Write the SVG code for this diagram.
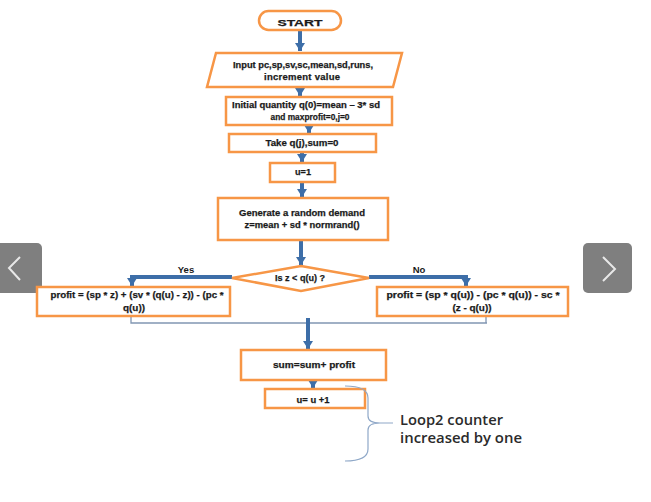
<svg xmlns="http://www.w3.org/2000/svg" width="651" height="502" viewBox="0 0 651 502">
<defs>
<style>
.box{fill:#fff;stroke:#f79646;stroke-width:2.5}
.t{font-family:"Liberation Sans",Arial,sans-serif;font-weight:bold;font-size:9.5px;fill:#1a1a1a;stroke:#1a1a1a;stroke-width:0.25;text-anchor:middle}
.lbl{font-family:"Liberation Sans",Arial,sans-serif;font-weight:bold;font-size:9.5px;fill:#1a1a1a;text-anchor:middle}
.flow{fill:none;stroke:#3d6ea8;stroke-width:4}
.thin{fill:none;stroke:#8196b2;stroke-width:1.3}
.btn{fill:#7f7f7f}
.chev{fill:none;stroke:#e8e8e8;stroke-width:2}
.note{font-family:"Open Sans","Liberation Sans",Arial,sans-serif;font-weight:600;font-size:13.5px;fill:#2b2b2b}
</style>
<marker id="ah" markerUnits="userSpaceOnUse" markerWidth="12" markerHeight="10" refX="8" refY="5" orient="auto">
<path d="M0,0 L8,5 L0,10 Z" fill="#3d6ea8"/>
</marker>
</defs>
<rect width="651" height="502" fill="#fff"/>
<rect class="btn" x="-6" y="243" width="48" height="50" rx="5"/>
<polyline class="chev" points="20,257 9,268 20,280"/>
<rect class="btn" x="583" y="243" width="49" height="50" rx="5"/>
<polyline class="chev" points="603,257 615,269 603,281"/>

<g id="connectors">
<line class="flow" x1="300" y1="30" x2="300" y2="51" marker-end="url(#ah)"/>
<line class="flow" x1="300" y1="87" x2="300" y2="96" marker-end="url(#ah)"/>
<line class="flow" x1="309" y1="125" x2="309" y2="133" marker-end="url(#ah)"/>
<line class="flow" x1="302" y1="152" x2="302" y2="162" marker-end="url(#ah)"/>
<line class="flow" x1="302" y1="182" x2="302" y2="197" marker-end="url(#ah)"/>
<line class="flow" x1="301" y1="240" x2="301" y2="265" marker-end="url(#ah)"/>
<polyline class="flow" points="232,277 132,277 132,286" marker-end="url(#ah)"/>
<polyline class="flow" points="369,277 466,277 466,286" marker-end="url(#ah)"/>
<polyline class="thin" points="131,316 131,323 487,323"/>
<line class="thin" x1="486" y1="316" x2="486" y2="323"/>
<line class="flow" x1="308" y1="318" x2="308" y2="349" marker-end="url(#ah)"/>
<line class="flow" x1="313" y1="380" x2="313" y2="388" marker-end="url(#ah)"/>
<text class="lbl" x="186" y="273">Yes</text>
<text class="lbl" x="419" y="273">No</text>
</g>

<g id="start">
<rect class="box" x="259" y="11" width="82" height="19" rx="9.5"/>
<text class="t" x="300" y="26" font-size="14" textLength="45" lengthAdjust="spacingAndGlyphs">START</text>
</g>
<g id="input">
<polygon class="box" points="216,53 402,53 393,87 207,87"/>
<text class="t" x="303" y="68" textLength="140" lengthAdjust="spacingAndGlyphs">Input pc,sp,sv,sc,mean,sd,runs,</text>
<text class="t" x="302" y="80" textLength="76" lengthAdjust="spacing">increment  value</text>
</g>
<g id="initial">
<rect class="box" x="226" y="97" width="166" height="28"/>
<text class="t" x="306" y="108" textLength="148" lengthAdjust="spacingAndGlyphs">Initial quantity q(0)=mean – 3* sd</text>
<text class="t" x="310" y="120" font-size="9" textLength="79" lengthAdjust="spacingAndGlyphs">and maxprofit=0,j=0</text>
</g>
<g id="take">
<rect class="box" x="229" y="134" width="147" height="18"/>
<text class="t" x="302" y="146" textLength="73" lengthAdjust="spacingAndGlyphs">Take q(j),sum=0</text>
</g>
<g id="u1">
<rect class="box" x="270" y="163" width="65" height="19"/>
<text class="t" x="303" y="175" textLength="16" lengthAdjust="spacingAndGlyphs">u=1</text>
</g>
<g id="generate">
<rect class="box" x="218" y="198" width="170" height="42"/>
<text class="t" x="302" y="216" textLength="126" lengthAdjust="spacingAndGlyphs">Generate a random demand</text>
<text class="t" x="302" y="228" textLength="115" lengthAdjust="spacingAndGlyphs">z=mean + sd * normrand()</text>
</g>
<g id="decision">
<polygon class="box" points="301,266 369,278 301,291 232,278"/>
<text class="t" x="300" y="281" textLength="50" lengthAdjust="spacingAndGlyphs">Is z &lt; q(u) ?</text>
</g>
<g id="profit-yes">
<rect class="box" x="37" y="287" width="193" height="29"/>
<text class="t" x="137" y="298" textLength="173" lengthAdjust="spacingAndGlyphs">profit = (sp * z) + (sv * (q(u) - z)) - (pc *</text>
<text class="t" x="134" y="311" textLength="22" lengthAdjust="spacingAndGlyphs">q(u))</text>
</g>
<g id="profit-no">
<rect class="box" x="377" y="287" width="191" height="29"/>
<text class="t" x="473" y="298" textLength="173" lengthAdjust="spacingAndGlyphs">profit = (sp * q(u)) - (pc * q(u)) - sc *</text>
<text class="t" x="472" y="311" textLength="39" lengthAdjust="spacingAndGlyphs">(z - q(u))</text>
</g>
<g id="sum">
<rect class="box" x="241" y="350" width="145" height="30"/>
<text class="t" x="314" y="368" textLength="82" lengthAdjust="spacingAndGlyphs">sum=sum+ profit</text>
</g>
<g id="increment">
<rect class="box" x="265" y="389" width="100" height="19"/>
<text class="t" x="313" y="403" textLength="33" lengthAdjust="spacingAndGlyphs">u= u +1</text>
</g>
<g id="note">
<path d="M345,386 Q368,386 368,398 L368,416 Q368,423 380,423 L393,423 M380,423 Q368,423 368,430 L368,449 Q368,461 345,461" fill="none" stroke="#8fa8c8" stroke-width="1.2"/>
<text class="note" x="400" y="425" textLength="103" lengthAdjust="spacingAndGlyphs">Loop2 counter</text>
<text class="note" x="400" y="443" textLength="122" lengthAdjust="spacingAndGlyphs">increased by one</text>
</g>
</svg>
